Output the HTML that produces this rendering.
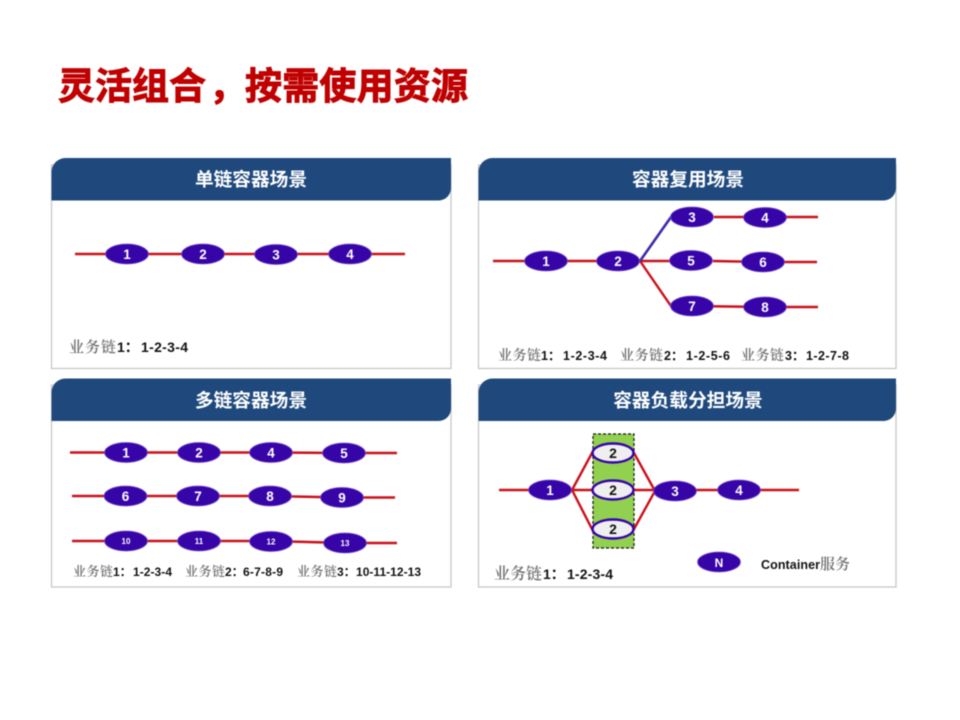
<!DOCTYPE html>
<html lang="zh">
<head>
<meta charset="utf-8">
<style>
html,body{margin:0;padding:0;background:#fff;width:960px;height:720px;overflow:hidden}
svg{display:block;filter:blur(.5px)}
text{font-family:"Liberation Sans","Noto Sans CJK SC",sans-serif}
.title{font-size:37px;font-weight:700;fill:#c00000;stroke:#c00000;stroke-width:.9}
.head{font-size:18.700px;font-weight:700;fill:#fff;text-anchor:middle;font-family:"Liberation Sans","Noto Sans CJK SC",sans-serif}
.panel{fill:#fff;stroke:#c4c4c4;stroke-width:1.200}
.hdr{fill:#1f497d}
.l{stroke:#cc101a;stroke-width:2.400;fill:none}
.lb{stroke:#3d2aa8;stroke-width:2.600;fill:none}
.n{fill:#3704a8;stroke:#7a52cc;stroke-width:.8}
.w{fill:#efefef;stroke:#3704a8;stroke-width:2.400}
.t{fill:#fff;font-weight:700;font-size:13.500px;text-anchor:middle}
.s{fill:#fff;font-weight:700;font-size:8px;text-anchor:middle}
.k{fill:#111;font-weight:700;font-size:14px;text-anchor:middle}
.g{fill:#707070;font-family:"Noto Serif CJK SC","Noto Sans CJK SC",serif;font-weight:600}
.b{fill:#111;font-weight:700}
</style>
</head>
<body>
<svg width="960" height="720" viewBox="0 0 960 720" xmlns="http://www.w3.org/2000/svg">
<rect width="960" height="720" fill="#fff"/>
<text class="title" x="58" y="99" textLength="148" lengthAdjust="spacing">灵活组合</text>
<text class="title" x="209" y="99">，</text>
<text class="title" x="245" y="99" textLength="223" lengthAdjust="spacing">按需使用资源</text>

<!-- Panels -->
<rect class="panel" x="51.500" y="165" width="399.500" height="203.500"/>
<rect class="panel" x="478.500" y="165" width="417.500" height="203.500"/>
<rect class="panel" x="51.500" y="385" width="399.500" height="202"/>
<rect class="panel" x="478.500" y="385" width="417.500" height="202"/>

<path class="hdr" d="M51.500 200.500V172a14 14 0 0 1 14-14H451V188a12.500 12.500 0 0 1-12.500 12.500Z"/>
<path class="hdr" d="M478.500 200.500V172a14 14 0 0 1 14-14H896V188a12.500 12.500 0 0 1-12.500 12.500Z"/>
<path class="hdr" d="M51.500 421V392.500a14 14 0 0 1 14-14H451V408.500a12.500 12.500 0 0 1-12.500 12.500Z"/>
<path class="hdr" d="M478.500 421V392.500a14 14 0 0 1 14-14H896V408.500a12.500 12.500 0 0 1-12.500 12.500Z"/>

<text class="head" x="251" y="186">单链容器场景</text>
<text class="head" x="688" y="186">容器复用场景</text>
<text class="head" x="251" y="407">多链容器场景</text>
<text class="head" x="688" y="407">容器负载分担场景</text>

<!-- Panel 1 -->
<path class="l" d="M75 254H405"/>
<ellipse class="n" cx="127" cy="254" rx="21.500" ry="10"/><text class="t" x="127" y="259">1</text>
<ellipse class="n" cx="203" cy="254" rx="21.500" ry="10"/><text class="t" x="203" y="259">2</text>
<ellipse class="n" cx="276" cy="254.500" rx="21.500" ry="10"/><text class="t" x="276" y="259.500">3</text>
<ellipse class="n" cx="350" cy="254" rx="21.500" ry="10"/><text class="t" x="350" y="259">4</text>
<text class="g" x="69" y="352" font-size="15" textLength="47">业务链</text>
<text class="b" x="117" y="352" font-size="14">1：</text>
<text class="b" x="141" y="352" font-size="14" textLength="47">1-2-3-4</text>

<!-- Panel 2 -->
<path class="l" d="M493 261H640M640 261H691M714 217H818M713 261L763 262H817M640 261L671 306H692L765 307H818"/>
<path class="lb" d="M640 261L671 217"/>
<ellipse class="n" cx="546" cy="261" rx="21.500" ry="10"/><text class="t" x="546" y="266">1</text>
<ellipse class="n" cx="618" cy="261" rx="21.500" ry="10"/><text class="t" x="618" y="266">2</text>
<ellipse class="n" cx="692" cy="217" rx="21.500" ry="10"/><text class="t" x="692" y="222">3</text>
<ellipse class="n" cx="765" cy="217.500" rx="21.500" ry="10"/><text class="t" x="765" y="222.500">4</text>
<ellipse class="n" cx="691" cy="260.500" rx="21.500" ry="10"/><text class="t" x="691" y="265.500">5</text>
<ellipse class="n" cx="763" cy="262" rx="21.500" ry="10"/><text class="t" x="763" y="267">6</text>
<ellipse class="n" cx="692" cy="306" rx="21.500" ry="10"/><text class="t" x="692" y="311">7</text>
<ellipse class="n" cx="765" cy="307" rx="21.500" ry="10"/><text class="t" x="765" y="312">8</text>
<text class="g" x="498" y="360" font-size="14" textLength="43">业务链</text>
<text class="b" x="541" y="360" font-size="12.500">1：</text>
<text class="b" x="563" y="360" font-size="12.500" textLength="44">1-2-3-4</text>
<text class="g" x="620" y="360" font-size="14" textLength="43">业务链</text>
<text class="b" x="664" y="360" font-size="12.500">2：</text>
<text class="b" x="686" y="360" font-size="12.500" textLength="44">1-2-5-6</text>
<text class="g" x="741" y="360" font-size="14" textLength="43">业务链</text>
<text class="b" x="785" y="360" font-size="12.500">3：</text>
<text class="b" x="806" y="360" font-size="12.500" textLength="43">1-2-7-8</text>

<!-- Panel 3 -->
<path class="l" d="M70 452.500H271L344 453H397M72 496H270L342 497.500H395M72 541H271L345 543H397"/>
<ellipse class="n" cx="126" cy="452.500" rx="21.500" ry="10"/><text class="t" x="126" y="457.500">1</text>
<ellipse class="n" cx="199" cy="452.500" rx="21.500" ry="10"/><text class="t" x="199" y="457.500">2</text>
<ellipse class="n" cx="271" cy="452.500" rx="21.500" ry="10"/><text class="t" x="271" y="457.500">4</text>
<ellipse class="n" cx="344" cy="453" rx="21.500" ry="10"/><text class="t" x="344" y="458">5</text>
<ellipse class="n" cx="125.500" cy="496" rx="21.500" ry="10"/><text class="t" x="125.500" y="501">6</text>
<ellipse class="n" cx="198" cy="496" rx="21.500" ry="10"/><text class="t" x="198" y="501">7</text>
<ellipse class="n" cx="270" cy="496" rx="21.500" ry="10"/><text class="t" x="270" y="501">8</text>
<ellipse class="n" cx="342" cy="497.500" rx="21.500" ry="10"/><text class="t" x="342" y="502.500">9</text>
<ellipse class="n" cx="126" cy="541" rx="21.500" ry="10"/><text class="s" x="126" y="544">10</text>
<ellipse class="n" cx="199" cy="541" rx="21.500" ry="10"/><text class="s" x="199" y="544">11</text>
<ellipse class="n" cx="271" cy="541.500" rx="21.500" ry="10"/><text class="s" x="271" y="544.500">12</text>
<ellipse class="n" cx="345" cy="543" rx="21.500" ry="10"/><text class="s" x="345" y="546">13</text>
<text class="g" x="73" y="576" font-size="13" textLength="40">业务链</text>
<text class="b" x="113" y="576" font-size="12">1：</text>
<text class="b" x="133" y="576" font-size="12" textLength="39">1-2-3-4</text>
<text class="g" x="185" y="576" font-size="13" textLength="40">业务链</text>
<text class="b" x="225" y="576" font-size="12">2：</text>
<text class="b" x="243" y="576" font-size="12" textLength="40">6-7-8-9</text>
<text class="g" x="297" y="576" font-size="13" textLength="40">业务链</text>
<text class="b" x="337" y="576" font-size="12">3：</text>
<text class="b" x="356" y="576" font-size="12" textLength="65">10-11-12-13</text>

<!-- Panel 4 -->
<rect x="593" y="434" width="41" height="114" fill="#92d050" stroke="#111" stroke-width="1.200" stroke-dasharray="3 2"/>
<path class="l" d="M499 490H799M572 490L592 453H634L655 491M572 490L592 529H634L655 491"/>
<ellipse class="w" cx="613" cy="453" rx="20.500" ry="9.500"/><text class="k" x="613" y="458">2</text>
<ellipse class="w" cx="613" cy="490" rx="20.500" ry="9.500"/><text class="k" x="613" y="495">2</text>
<ellipse class="w" cx="613" cy="529" rx="20.500" ry="9.500"/><text class="k" x="613" y="534">2</text>
<ellipse class="n" cx="550" cy="490" rx="21.500" ry="10"/><text class="t" x="550" y="495">1</text>
<ellipse class="n" cx="675" cy="491" rx="21.500" ry="10"/><text class="t" x="675" y="496">3</text>
<ellipse class="n" cx="739" cy="490" rx="21.500" ry="10"/><text class="t" x="739" y="495">4</text>
<ellipse class="n" cx="719" cy="562" rx="21.500" ry="10"/><text class="t" x="719" y="567" style="font-size:12px">N</text>
<text class="b" x="761" y="569" font-size="12.500" textLength="59">Container</text>
<text class="g" x="820" y="569" font-size="15" textLength="30">服务</text>
<text class="g" x="494" y="579" font-size="16" textLength="48">业务链</text>
<text class="b" x="543" y="579" font-size="14">1：</text>
<text class="b" x="567" y="579" font-size="14" textLength="46">1-2-3-4</text>
</svg>
</body>
</html>
